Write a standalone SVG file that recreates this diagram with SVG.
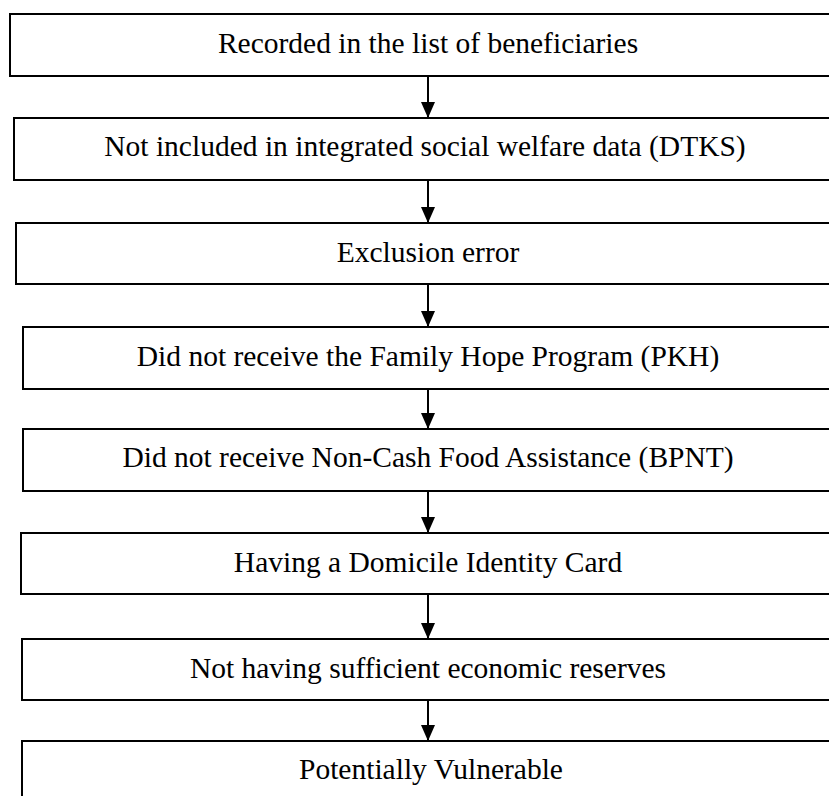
<svg xmlns="http://www.w3.org/2000/svg" width="829" height="796" viewBox="0 0 829 796">
<style>
.box{fill:#fff;stroke:#000;stroke-width:2}
.lbl{font-family:"Liberation Serif","Times New Roman",serif;font-size:29.5px;fill:#000;text-anchor:middle}
.conn line{stroke:#000;stroke-width:2}
</style>
<defs>
<marker id="ah" markerWidth="8" markerHeight="8" refX="7.5" refY="4" orient="auto" markerUnits="strokeWidth">
<path d="M0,0.5 L8,4 L0,7.5 z" fill="#000"/>
</marker>
</defs>
<rect width="829" height="796" fill="#fff"/>
<g id="n1"><rect class="box" x="10" y="14" width="840" height="62"/><text class="lbl" x="428" y="53">Recorded in the list of beneficiaries</text></g>
<g id="n2"><rect class="box" x="14" y="118" width="840" height="62"/><text class="lbl" x="425" y="156">Not included in integrated social welfare data (DTKS)</text></g>
<g id="n3"><rect class="box" x="16" y="223" width="840" height="61"/><text class="lbl" x="428" y="262">Exclusion error</text></g>
<g id="n4"><rect class="box" x="23" y="327" width="840" height="62"/><text class="lbl" x="428" y="366">Did not receive the Family Hope Program (PKH)</text></g>
<g id="n5"><rect class="box" x="23" y="429" width="840" height="62"/><text class="lbl" x="428" y="467">Did not receive Non-Cash Food Assistance (BPNT)</text></g>
<g id="n6"><rect class="box" x="21" y="533" width="840" height="61"/><text class="lbl" x="428" y="572">Having a Domicile Identity Card</text></g>
<g id="n7"><rect class="box" x="22" y="639" width="840" height="61"/><text class="lbl" x="428" y="678">Not having sufficient economic reserves</text></g>
<g id="n8"><rect class="box" x="22" y="741" width="840" height="80"/><text class="lbl" x="431" y="779">Potentially Vulnerable</text></g>
<g class="conn" id="connectors">
<line x1="428" y1="76" x2="428" y2="117" marker-end="url(#ah)"/>
<line x1="428" y1="180" x2="428" y2="222" marker-end="url(#ah)"/>
<line x1="428" y1="284" x2="428" y2="326" marker-end="url(#ah)"/>
<line x1="428" y1="389" x2="428" y2="428" marker-end="url(#ah)"/>
<line x1="428" y1="491" x2="428" y2="532" marker-end="url(#ah)"/>
<line x1="428" y1="594" x2="428" y2="638" marker-end="url(#ah)"/>
<line x1="428" y1="700" x2="428" y2="740" marker-end="url(#ah)"/>
</g>
</svg>
